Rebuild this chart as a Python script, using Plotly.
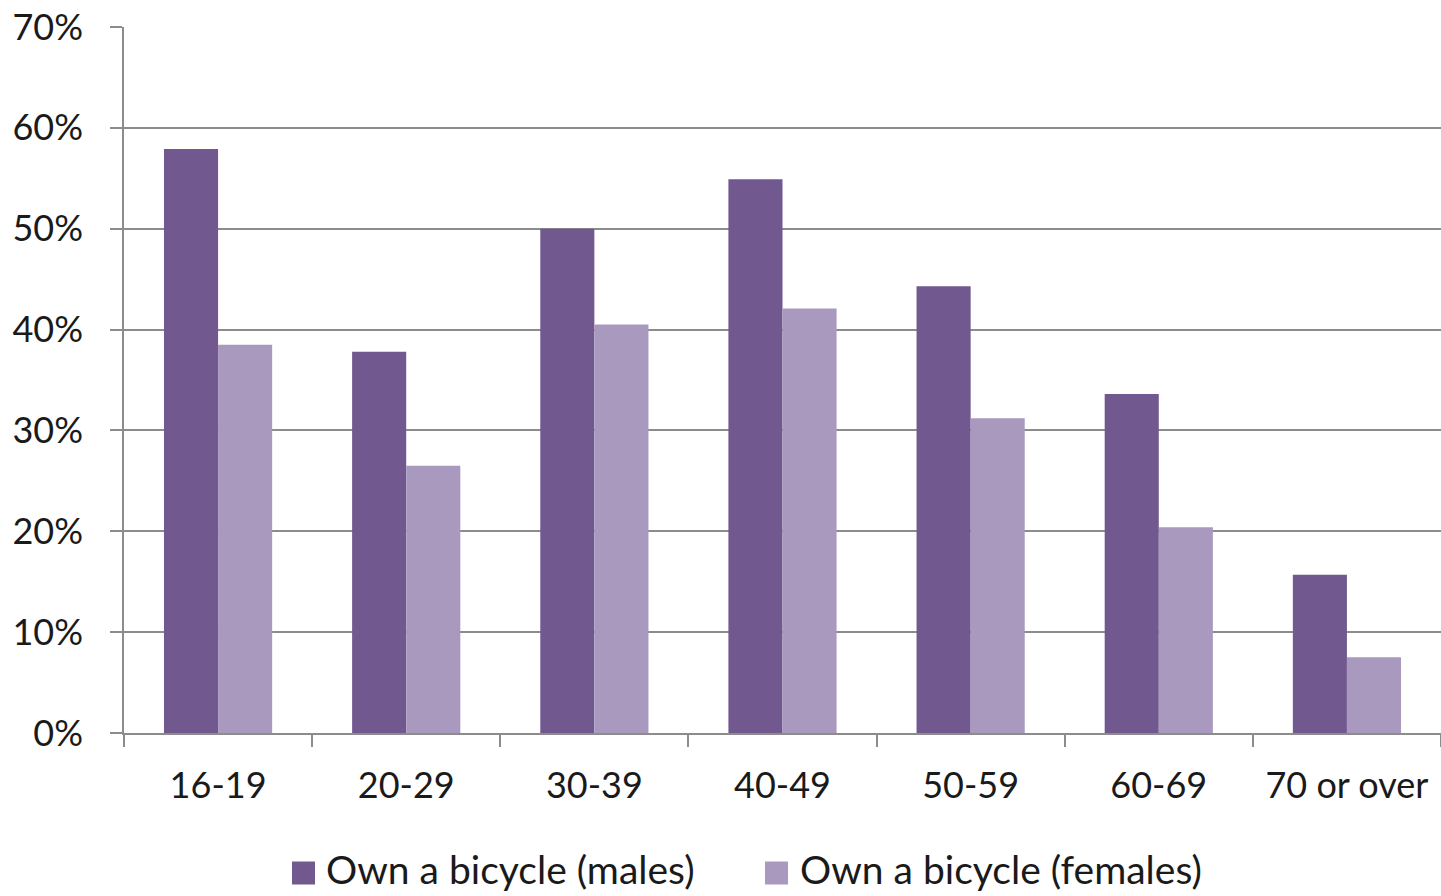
import plotly.graph_objects as go

# Age bands and share owning a bicycle
age_groups = ["16-19", "20-29", "30-39", "40-49", "50-59", "60-69", "70 or over"]
males = [0.579, 0.378, 0.500, 0.549, 0.443, 0.336, 0.157]
females = [0.385, 0.265, 0.405, 0.421, 0.312, 0.204, 0.075]
series_names = ["Own a bicycle (males)", "Own a bicycle (females)"]

male_color = "#71598f"
female_color = "#a999bf"
grid_color = "#8c8c8c"
font_family = "Lato, Open Sans, sans-serif"

W, H = 1441, 896
ML, MR, MT, MB = 124, 0, 27, 163
plot_w, plot_h = W - ML - MR, H - MT - MB


def px_to_paper(px, py):
    return (px - ML) / plot_w, (H - MB - py) / plot_h


fig = go.Figure()
for name, vals, col in [(series_names[0], males, male_color),
                        (series_names[1], females, female_color)]:
    fig.add_trace(go.Bar(x=age_groups, y=vals, name=name,
                         marker=dict(color=col, line=dict(width=0))))

# Legend below the chart: square swatch followed by its label
legend_y = 869
swatch = 23
for (sx, tx), name, col in zip([(292, 325), (765, 799)], series_names,
                               [male_color, female_color]):
    x0, y0 = px_to_paper(sx, legend_y + 4 + swatch / 2)
    x1, y1 = px_to_paper(sx + swatch, legend_y + 4 - swatch / 2)
    fig.add_shape(type="rect", xref="paper", yref="paper", x0=x0, x1=x1,
                  y0=y0, y1=y1, fillcolor=col, line=dict(width=0))
    ax, ay = px_to_paper(tx, legend_y)
    fig.add_annotation(xref="paper", yref="paper", x=ax, y=ay, text=name,
                       showarrow=False, xanchor="left", yanchor="middle",
                       borderpad=0, font=dict(size=39, color="#1a1a1a"))

fig.update_layout(
    width=W, height=H,
    margin=dict(l=ML, r=MR, t=MT, b=MB),
    paper_bgcolor="white", plot_bgcolor="white",
    barmode="group", bargap=0.425, bargroupgap=0,
    font=dict(family=font_family, size=36, color="#1a1a1a"),
    showlegend=False,
)
fig.update_xaxes(
    type="category", tickson="boundaries", ticks="outside", ticklen=12,
    tickcolor=grid_color, tickwidth=1.5, showline=True, linecolor=grid_color,
    linewidth=1.5, showgrid=False, ticklabelstandoff=20,
)
fig.update_yaxes(
    range=[0, 0.7], dtick=0.1, tickformat=".0%", showgrid=True,
    gridcolor=grid_color, gridwidth=1.5, showline=True, linecolor=grid_color,
    linewidth=1.5, ticks="outside", ticklen=12, tickcolor=grid_color,
    tickwidth=1.5, zeroline=False, ticklabelstandoff=20,
)

fig.write_html("out.html")
